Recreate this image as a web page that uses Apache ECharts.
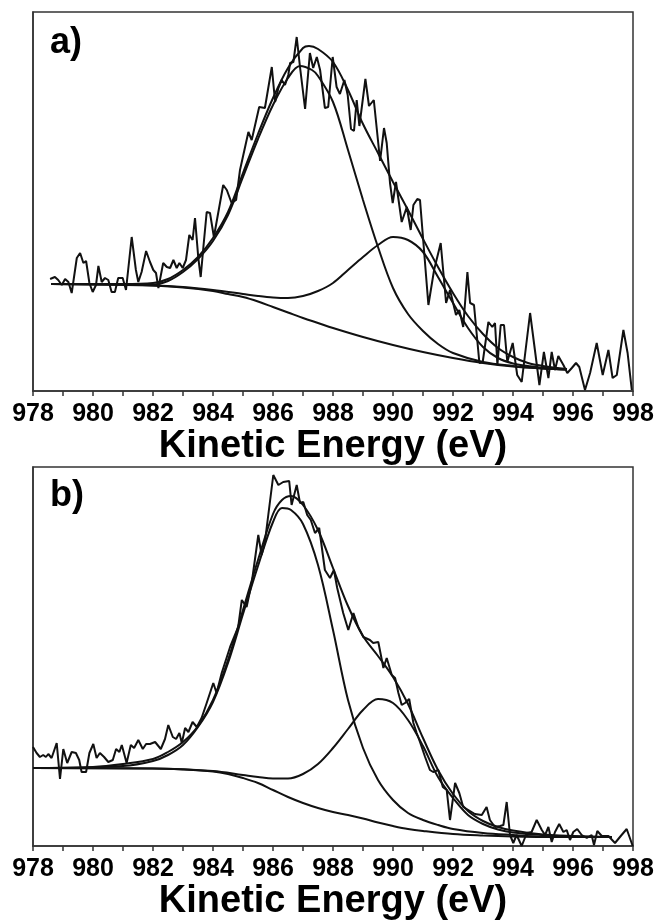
<!DOCTYPE html>
<html>
<head>
<meta charset="utf-8">
<script src="https://cdn.jsdelivr.net/npm/echarts@6/dist/echarts.min.js"></script>
<style>
html,body{margin:0;padding:0;background:#fff;}
#chart{width:659px;height:922px;}
</style>
</head>
<body>
<div id="chart"></div>
<script>
// Kinetic energy axis
const xMin = 978, xMax = 998;
const yMaxA = 379, yMaxB = 379; // intensity (a.u.)

// ---------- Panel a ----------
const rawA = [[978.57,112],[978.73,114],[978.84,111],[978.96,106],[979.07,112],[979.18,109],[979.29,98],[979.46,133],[979.57,138],[979.68,128],[979.77,130],[979.88,108],[979.99,99],[980.1,106],[980.18,125],[980.29,109],[980.4,113],[980.51,111],[980.62,99],[980.73,99],[980.84,113],[980.99,113],[981.1,101],[981.29,154],[981.43,121],[981.51,109],[981.62,119],[981.77,140],[981.9,129],[982.01,121],[982.1,118],[982.18,103],[982.34,128],[982.46,124],[982.57,123],[982.68,131],[982.79,123],[982.88,128],[982.99,123],[983.1,131],[983.21,156],[983.32,151],[983.4,173],[983.51,133],[983.59,114],[983.68,144],[983.79,179],[983.9,178],[984.03,154],[984.34,206],[984.46,201],[984.62,188],[984.77,191],[984.9,221],[985.18,259],[985.29,251],[985.54,284],[985.73,283],[985.96,324],[986.07,289],[986.18,303],[986.29,311],[986.4,306],[986.51,316],[986.57,328],[986.68,329],[986.79,354],[986.9,324],[987.07,282],[987.23,338],[987.34,323],[987.46,334],[987.57,321],[987.73,283],[987.84,284],[987.99,334],[988.12,304],[988.23,297],[988.38,311],[988.49,296],[988.6,262],[988.7,260],[988.79,291],[988.88,265],[989.08,312],[989.2,285],[989.36,291],[989.57,230],[989.7,263],[989.79,248],[989.9,208],[989.99,188],[990.1,209],[990.29,169],[990.46,184],[990.59,161],[990.68,186],[990.81,192],[990.9,191],[991.18,86],[991.37,121],[991.59,148],[991.77,88],[991.9,101],[992.1,76],[992.21,81],[992.34,64],[992.48,119],[992.57,88],[992.7,86],[992.88,28],[992.99,29],[993.18,69],[993.31,64],[993.4,68],[993.48,26],[993.59,66],[993.7,66],[993.81,29],[993.99,48],[994.14,16],[994.29,9],[994.57,78],[994.73,41],[994.88,6],[995.03,39],[995.18,13],[995.29,39],[995.4,21],[995.51,35],[995.68,26],[995.81,18],[995.96,23],[996.1,28],[996.21,24],[996.4,1],[996.57,18],[996.79,48],[996.99,16],[997.18,41],[997.32,13],[997.46,16],[997.68,61],[997.82,38],[997.96,1]];
const envA = [[978.6,107],[981,107],[982,108],[982.5,112],[983,121],[983.5,134],[984,153],[984.5,179],[985,218],[985.5,257],[986,293],[986.5,323],[987,343],[987.2,345],[987.5,342],[988,329],[988.5,301],[989,267],[989.5,238],[990,209],[990.5,181],[991,152],[991.5,124],[992,98],[992.5,75],[993,57],[993.5,43],[994,34],[994.5,28],[995,25],[995.8,22]];
const peak1A = [[978.6,107],[982,106.5],[982.5,110],[983,119],[983.5,132],[984,150],[984.5,176],[985,214],[985.5,252],[986,286],[986.5,313],[986.9,325],[987.3,321],[987.5,315],[988,289],[988.5,241],[989,191],[989.5,144],[990,103],[990.5,77],[991,60],[991.5,47],[992,38],[993,29],[994,25],[995,22.5],[995.8,21.5]];
const peak2A = [[978.6,107],[982,105.5],[983,104],[984,101],[985,97],[985.5,95],[986,93.5],[986.5,93],[987,95],[987.5,100],[988,108],[988.5,121],[989,134],[989.5,146],[990,154],[990.5,151],[991,139],[991.5,114],[992,88],[992.5,63],[993,44],[993.5,33],[994,27.5],[994.5,25],[995,23],[995.8,21.5]];
const bgA = [[978.6,107],[981,106.5],[982,105.5],[983,103.5],[984,100],[984.5,97],[985,94],[985.5,89.5],[986,84],[986.5,78.5],[987,73],[987.5,68],[988,63],[989,54],[990,46],[991,39],[992,33],[993,28],[994,24.5],[995,22.5],[995.8,21.5]];

// ---------- Panel b ----------
const rawB = [[978.0,99],[978.12,93],[978.23,89],[978.34,91],[978.43,89],[978.51,92],[978.62,88],[978.79,103],[978.9,67],[979.01,97],[979.14,83],[979.29,94],[979.43,93],[979.54,86],[979.62,74],[979.77,74],[979.88,93],[980.01,102],[980.12,88],[980.23,93],[980.37,89],[980.51,84],[980.66,86],[980.77,97],[980.88,94],[980.96,101],[981.12,83],[981.26,101],[981.37,98],[981.51,106],[981.66,97],[981.77,102],[981.9,102],[982.07,104],[982.26,97],[982.4,107],[982.51,121],[982.66,109],[982.77,107],[982.88,113],[982.96,103],[983.07,118],[983.18,114],[983.32,124],[983.46,119],[983.62,128],[983.79,143],[984.01,163],[984.12,153],[984.29,173],[984.57,199],[984.84,219],[984.96,246],[985.12,239],[985.29,263],[985.51,311],[985.62,291],[985.73,304],[986.01,371],[986.18,361],[986.34,364],[986.54,365],[986.62,341],[986.79,361],[986.9,343],[987.01,344],[987.14,331],[987.26,326],[987.4,313],[987.54,318],[987.73,276],[987.9,268],[988.03,276],[988.14,258],[988.34,233],[988.51,216],[988.68,233],[988.84,219],[989.01,209],[989.23,206],[989.34,203],[989.51,204],[989.68,178],[989.79,188],[989.96,171],[990.07,168],[990.18,153],[990.29,141],[990.4,143],[990.54,147],[990.68,123],[990.79,113],[990.9,104],[991.07,89],[991.23,76],[991.34,74],[991.51,76],[991.66,59],[991.79,56],[991.9,26],[992.07,63],[992.21,53],[992.34,39],[992.51,36],[992.73,32],[992.96,31],[993.12,39],[993.23,26],[993.4,19],[993.57,20],[993.68,21],[993.79,44],[993.9,11],[994.01,3],[994.12,11],[994.29,0],[994.46,13],[994.62,14],[994.79,26],[994.96,16],[995.07,11],[995.18,19],[995.29,4],[995.4,14],[995.54,22],[995.68,14],[995.79,16],[995.9,6],[996.01,14],[996.14,17],[996.29,11],[996.46,8],[996.62,11],[996.7,1],[996.81,15],[996.96,10],[997.18,10],[997.4,3],[997.62,11],[997.79,17],[997.99,0]];
const envB = [[978,78],[980,79],[981,82],[982,87],[982.5,94],[983,104],[983.5,120],[984,146],[984.5,186],[985,236],[985.5,286],[986,332],[986.3,346],[986.6,350],[987,341],[987.5,316],[988,278],[988.5,240],[989,210],[989.5,190],[990,169],[990.5,142],[991,108],[991.5,76],[992,52],[992.5,35],[993,25],[993.5,19],[994,15.5],[995,11.5],[996,10],[997.3,9]];
const peak1B = [[978,78],[981,80],[982,85],[982.5,91],[983,101],[983.5,119],[984,144],[984.5,183],[985,232],[985.5,280],[986,324],[986.3,338],[986.6,336],[987,322],[987.5,281],[988,216],[988.5,146],[989,98],[989.5,66],[990,46],[990.5,33],[991,26],[991.5,21],[992,17],[993,13],[994,11],[995,9.5],[997.3,9]];
const peak2B = [[978,78],[982,77.5],[984,75],[985,71],[985.5,69],[986,67.5],[986.5,67.5],[987,72],[987.5,82],[988,98],[988.5,117],[989,136],[989.5,147],[990,143],[990.5,126],[991,100],[991.5,69],[992,48],[992.5,31],[993,22],[993.5,16.5],[994,13.5],[995,11],[996,9.5],[997.3,9]];
const bgB = [[978,78],[982,77.5],[983,76.5],[984,74.5],[984.5,72],[985,68],[985.5,63],[986,56],[986.5,49],[987,43],[987.5,38],[988,34],[988.5,31],[989,27.5],[989.5,23.5],[990,20],[990.5,17],[991,15],[992,12],[993,10.5],[994,9.5],[995,9],[997.3,9]];

const panelLabels = ['a)', 'b)'];
const xTitle = 'Kinetic Energy (eV)';

const FONT = '"Liberation Sans", Arial, sans-serif';
const INK = '#111';

function xAxisFor(gi) {
  return {
    type: 'value', gridIndex: gi, min: xMin, max: xMax, interval: 1,
    name: xTitle, nameLocation: 'middle', nameGap: 32,
    nameTextStyle: { fontFamily: FONT, fontWeight: 'bold', fontSize: 38, color: '#000' },
    axisLine: { show: true, lineStyle: { color: '#333', width: 1.5 } },
    axisTick: { show: true, inside: false, length: 5, lineStyle: { color: '#333', width: 1.5 } },
    axisLabel: {
      margin: 11, fontFamily: FONT, fontWeight: 'bold', fontSize: 25, color: '#000',
      showMinLabel: true, showMaxLabel: true,
      formatter: v => (Math.round(v) % 2 === 0 ? String(Math.round(v)) : '')
    },
    splitLine: { show: false }
  };
}
function yAxisFor(gi, max) {
  return {
    type: 'value', gridIndex: gi, min: 0, max: max,
    axisLine: { show: true, lineStyle: { color: '#333', width: 1.5 } },
    axisTick: { show: false }, axisLabel: { show: false }, splitLine: { show: false }
  };
}
function lineSeries(data, gi, smooth) {
  return {
    type: 'line', xAxisIndex: gi, yAxisIndex: gi, data: data,
    showSymbol: false, symbol: 'none', smooth: smooth ? 0.35 : false,
    lineStyle: { color: INK, width: 2 }, silent: true, animation: false
  };
}

const chart = echarts.init(document.getElementById('chart'), null, { renderer: 'canvas' });
chart.setOption({
  animation: false,
  backgroundColor: '#fff',
  grid: [
    { left: 33, right: 26, top: 12, height: 379, show: true, borderColor: '#333', borderWidth: 1.5 },
    { left: 33, right: 26, top: 467, height: 379, show: true, borderColor: '#333', borderWidth: 1.5 }
  ],
  xAxis: [xAxisFor(0), xAxisFor(1)],
  yAxis: [yAxisFor(0, yMaxA), yAxisFor(1, yMaxB)],
  series: [
    lineSeries(bgA, 0, true), lineSeries(peak2A, 0, true), lineSeries(peak1A, 0, true),
    lineSeries(envA, 0, true), lineSeries(rawA, 0, false),
    lineSeries(bgB, 1, true), lineSeries(peak2B, 1, true), lineSeries(peak1B, 1, true),
    lineSeries(envB, 1, true), lineSeries(rawB, 1, false)
  ],
  graphic: [
    { type: 'text', left: 50, top: 25, style: { text: panelLabels[0], font: 'bold 36px ' + FONT, fill: '#000' } },
    { type: 'text', left: 50, top: 478, style: { text: panelLabels[1], font: 'bold 36px ' + FONT, fill: '#000' } }
  ]
});
</script>
</body>
</html>
